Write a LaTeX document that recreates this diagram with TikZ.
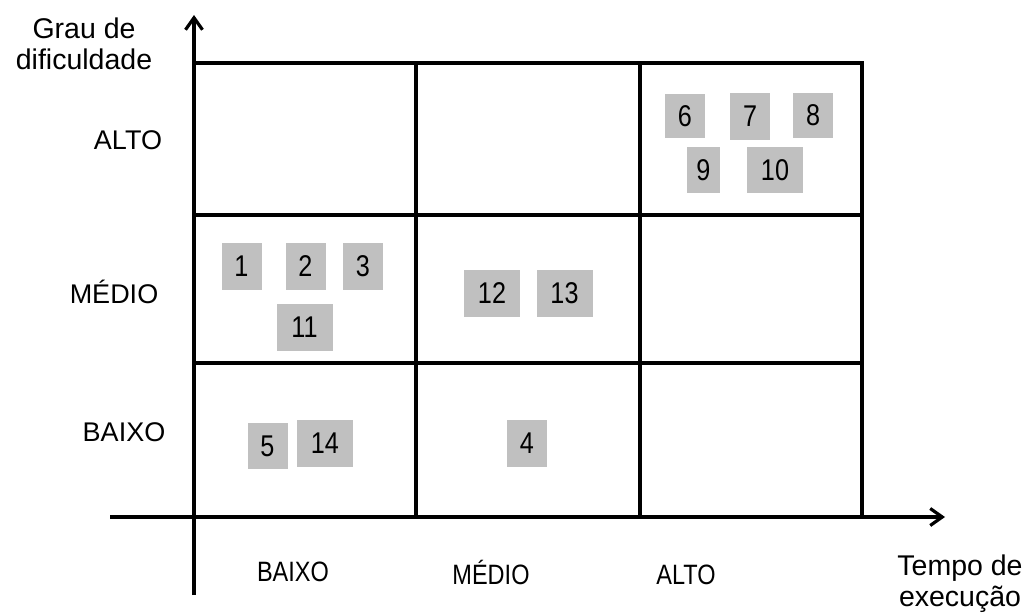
\documentclass[tikz,border=0pt]{standalone}
\usepackage{fontspec}
\setmainfont{Liberation Sans}
\newfontfamily\narrowfont{Liberation Sans}[FakeStretch=0.84]
\usepackage{xcolor}
\usetikzlibrary{arrows.meta,positioning}
\definecolor{boxgray}{RGB}{192,192,192}
\tikzset{
  item/.style={fill=boxgray, inner sep=0pt, minimum width=40pt, minimum height=47pt,
    font=\narrowfont\fontsize{30}{34}\selectfont},
  wide/.style={item, minimum width=56pt},
  level/.style={font=\fontsize{27}{32}\selectfont},
  tick/.style={font=\narrowfont\fontsize{28}{32}\selectfont},
  title/.style={align=center, font=\fontsize{28.5}{31}\selectfont},
  axis/.style={line width=3.2pt, -{Straight Barb[length=12pt,width=17pt]}},
  gridline/.style={line width=3.2pt}
}

\begin{document}
\begin{tikzpicture}[x=1pt,y=-1pt]
\useasboundingbox (0,0) rectangle (1031,615);

% Axes
\coordinate (ybot) at (194,595);
\coordinate (ytop) at (194,15);
\coordinate (xleft) at (110,517);
\coordinate (xright) at (945,517);
\draw[axis] (ybot) -- (ytop);
\draw[axis] (xleft) -- (xright);

% Grid 3x3
\draw[gridline] (194,63) -- (862,63) -- (862,517);
\draw[gridline] (194,215) -- (862,215);
\draw[gridline] (194,363) -- (862,363);
\draw[gridline] (416,63) -- (416,517);
\draw[gridline] (640,63) -- (640,517);

% Axis titles
\node[title] (ytitle) at (84,44) {Grau de\\dificuldade};
\node[title] (xtitle) at (960,584) {Tempo de\\execução};

% Levels
\node[level] (yalto) at (128,140) {ALTO};
\node[level] (ymedio) at (114,292) {MÉDIO};
\node[level] (ybaixo) at (124,432) {BAIXO};
\node[tick] (xbaixo) at (293,572) {BAIXO};
\node[tick] (xmedio) at (491,572) {MÉDIO};
\node[tick] (xalto) at (686,575) {ALTO};

% Items
\node[item] (n1) at (241.5,266) {1};
\node[item] (n2) at (305.5,266) {2};
\node[item] (n3) at (363,266) {3};
\node[wide] (n11) at (304.5,327) {11};
\node[wide] (n12) at (492,293) {12};
\node[wide] (n13) at (564.5,293.5) {13};
\node[item, minimum height=46pt] (n5) at (267.5,446) {5};
\node[wide] (n14) at (325,443) {14};
\node[item] (n4) at (527,443) {4};
\node[item, minimum height=44pt] (n6) at (685,116) {6};
\node[item] (n7) at (750,116.5) {7};
\node[item, minimum height=45pt] (n8) at (813,115.5) {8};
\node[item, minimum width=33pt, minimum height=46pt] (n9) at (703.5,170) {9};
\node[wide, minimum height=46pt] (n10) at (775,170) {10};
\end{tikzpicture}
\end{document}
